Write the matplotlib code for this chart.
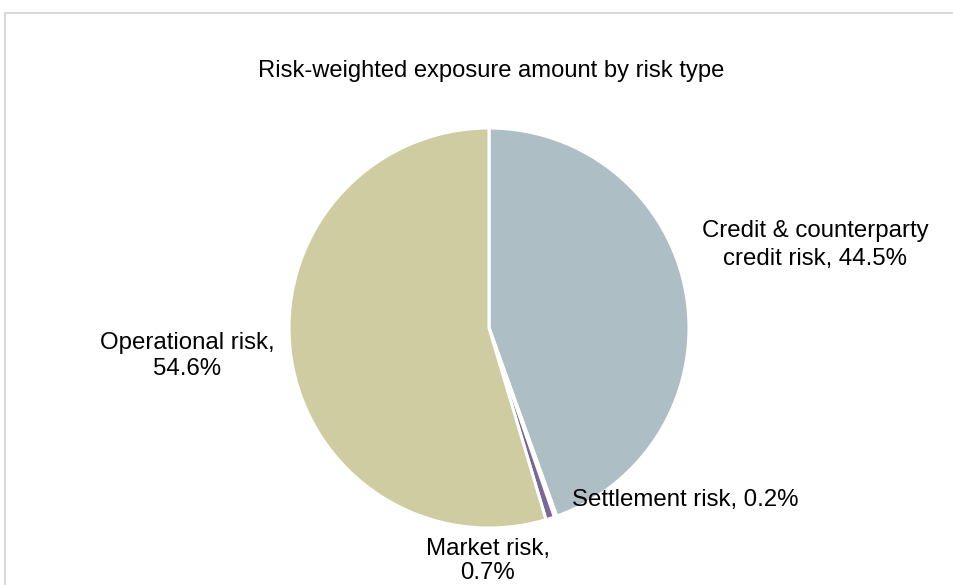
import matplotlib.pyplot as plt
from matplotlib.patches import Rectangle

plt.rcParams['font.family'] = ['Liberation Sans', 'DejaVu Sans']

title = "Risk-weighted exposure amount by risk type"
risk_types = ["Credit & counterparty\ncredit risk", "Settlement risk", "Market risk,\n", "Operational risk,\n"]
shares = [44.5, 0.2, 0.7, 54.6]
colors = ["#adbfc5", "#ffffff", "#7a6699", "#cfcca2"]

W, H = 954, 585
fig = plt.figure(figsize=(W / 100, H / 100), dpi=100)
ax = fig.add_axes([0, 0, 1, 1])

# pie in pixel units (y up)
ax.pie(shares, colors=colors, startangle=90, counterclock=False,
       center=(489, H - 328), radius=200,
       wedgeprops=dict(edgecolor="white", linewidth=2.2))
ax.set_xlim(0, W)
ax.set_ylim(0, H)
ax.set_aspect("equal")
ax.axis("off")

# light frame
ax.add_patch(Rectangle((5, -10), W + 20, H - 13 + 10, fill=False,
                       edgecolor="#d9d9d9", linewidth=1.5, clip_on=False))

ax.text(491, H - 71, title, ha="center", va="center", fontsize=17.1)

fs = 17.3
ax.text(815, H - 245, f"Credit & counterparty\ncredit risk, {shares[0]}%",
        ha="center", va="center", fontsize=fs, linespacing=1.32)
ax.text(187, H - 356, f"Operational risk,\n{shares[3]}%",
        ha="center", va="center", fontsize=fs, linespacing=1.26)
ax.text(685, H - 500, f"Settlement risk, {shares[1]}%",
        ha="center", va="center", fontsize=fs)
ax.text(488, H - 561, f"Market risk,\n{shares[2]}%",
        ha="center", va="center", fontsize=fs, linespacing=1.12)

fig.savefig("out.png", dpi=100)
